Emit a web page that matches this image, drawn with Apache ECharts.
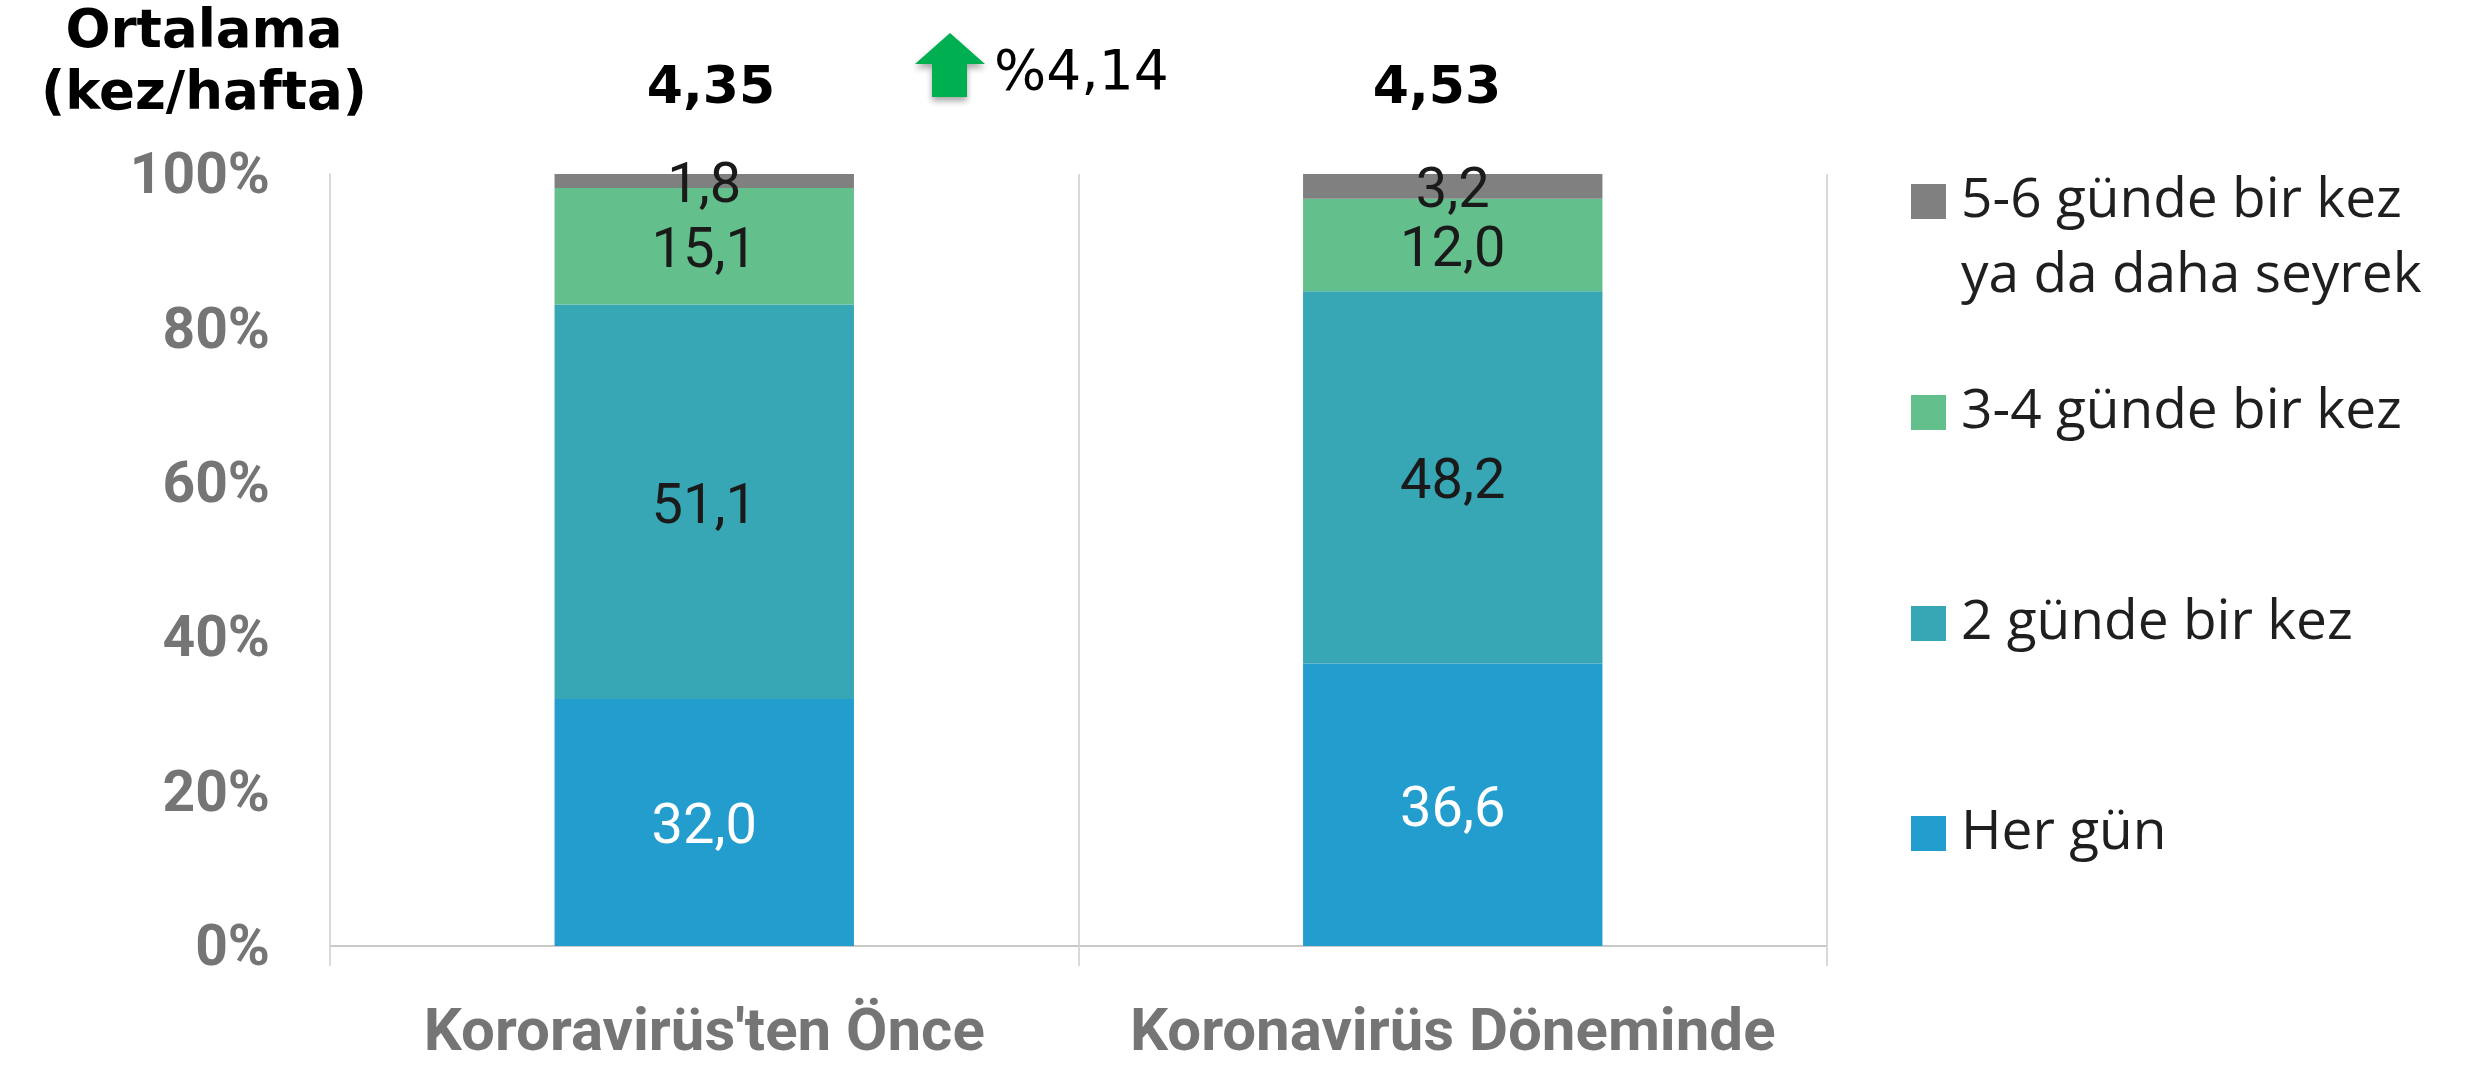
<!DOCTYPE html>
<html>
<head>
<meta charset="utf-8">
<script src="https://cdn.jsdelivr.net/npm/echarts@6.0.0/dist/echarts.min.js"></script>
<style>
  html, body { margin: 0; padding: 0; background: #fff; }
  #chart { width: 2469px; height: 1066px; }
</style>
</head>
<body>
<div id="chart"></div>
<script>
var categories = ["Kororavirüs'ten Önce", "Koronavirüs Döneminde"];
var herGun = [32.0, 36.6];
var ikiGunde = [51.1, 48.2];
var ucDortGunde = [15.1, 12.0];
var besAltiGunde = [1.8, 3.2];
var averages = ["4,35", "4,53"];
var changeText = "%4,14";
var yTicks = [0, 20, 40, 60, 80, 100];

var seriesNames = ["Her gün", "2 günde bir kez", "3-4 günde bir kez", "5-6 günde bir kez\nya da daha seyrek"];
var colors = ["#239dce", "#37a6b5", "#63bf8b", "#808080"];

var chart = echarts.init(document.getElementById("chart"));

function fmt(p) {
  return p.value.toFixed(1).replace(".", ",");
}

function makeSeries(name, data, color, labelColor) {
  return {
    name: name,
    type: "bar",
    stack: "total",
    barWidth: "40%",
    data: data,
    itemStyle: { color: color },
    label: {
      show: true,
      position: "inside",
      offset: [0, 7],
      formatter: fmt,
      fontFamily: "Roboto",
      fontSize: 56,
      color: labelColor
    }
  };
}

// one legend per item so each can sit where the original puts it
function legendAt(name, top, formatter) {
  return {
    data: [name],
    orient: "vertical",
    left: 1906,
    top: top,
    itemWidth: 35,
    itemHeight: 35,
    icon: "rect",
    selectedMode: false,
    formatter: formatter,
    textStyle: {
      fontFamily: "Open Sans",
      fontSize: 55,
      lineHeight: 75,
      color: "#1f1f1f",
      padding: [0, 0, 0, 10]
    }
  };
}

var option = {
  animation: false,
  backgroundColor: "#fff",
  grid: { left: 330, right: 642, top: 174, bottom: 120 },
  legend: [
    legendAt(seriesNames[3], 84, function (n) { return "\n" + n; }),
    legendAt(seriesNames[2], 370),
    legendAt(seriesNames[1], 581),
    legendAt(seriesNames[0], 791)
  ],
  xAxis: {
    type: "category",
    data: categories,
    axisLine: { lineStyle: { color: "#c9c9c9", width: 2 } },
    axisTick: { show: true, interval: 0, length: 20, lineStyle: { color: "#d9d9d9", width: 2 } },
    splitLine: { show: true, interval: 0, lineStyle: { color: "#d9d9d9", width: 2 } },
    axisLabel: {
      interval: 0,
      hideOverlap: false,
      margin: 59,
      fontFamily: "Roboto",
      fontWeight: "bold",
      fontSize: 60,
      color: "#757575"
    }
  },
  yAxis: {
    type: "value",
    min: yTicks[0],
    max: yTicks[yTicks.length - 1],
    interval: 20,
    axisLine: { show: true, lineStyle: { color: "#d9d9d9", width: 2 } },
    axisTick: { show: false },
    splitLine: { show: false },
    axisLabel: {
      margin: 60,
      formatter: "{value}%",
      verticalAlign: "top",
      lineHeight: 10,
      fontFamily: "Roboto",
      fontWeight: "bold",
      fontSize: 57,
      color: "#757575"
    }
  },
  series: [
    makeSeries(seriesNames[0], herGun, colors[0], "#ffffff"),
    makeSeries(seriesNames[1], ikiGunde, colors[1], "#1a1a1a"),
    makeSeries(seriesNames[2], ucDortGunde, colors[2], "#1a1a1a"),
    makeSeries(seriesNames[3], besAltiGunde, colors[3], "#1a1a1a")
  ],
  graphic: [
    {
      type: "text",
      style: {
        text: "Ortalama\n(kez/hafta)",
        x: 204, y: 64,
        align: "center", verticalAlign: "middle",
        lineHeight: 62,
        font: "bold 53px 'DejaVu Sans'",
        fill: "#000"
      }
    },
    {
      type: "text",
      style: {
        text: averages[0], x: 711, y: 89,
        align: "center", verticalAlign: "middle",
        font: "bold 52px 'DejaVu Sans'", fill: "#000"
      }
    },
    {
      type: "text",
      style: {
        text: averages[1], x: 1437, y: 89,
        align: "center", verticalAlign: "middle",
        font: "bold 52px 'DejaVu Sans'", fill: "#000"
      }
    },
    {
      type: "polygon",
      shape: {
        points: [[915, 64], [950, 33], [985, 64], [967, 64], [967, 97], [932, 97], [932, 64]]
      },
      style: {
        fill: "#00b050",
        shadowBlur: 6,
        shadowOffsetY: 4,
        shadowColor: "rgba(0,0,0,0.35)"
      }
    },
    {
      type: "text",
      style: {
        text: changeText, x: 994, y: 75,
        align: "left", verticalAlign: "middle",
        font: "55px 'DejaVu Sans'", fill: "#000"
      }
    }
  ]
};

chart.setOption(option);
</script>
</body>
</html>
